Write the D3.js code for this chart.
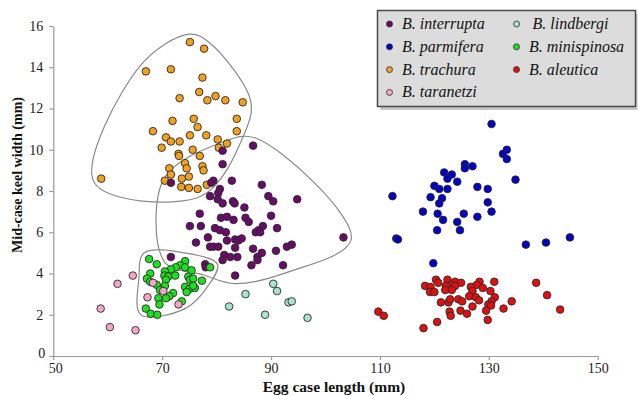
<!DOCTYPE html>
<html><head><meta charset="utf-8">
<script src="https://cdn.jsdelivr.net/npm/d3@7"></script>
<style>
html,body{margin:0;padding:0;background:#fff;}
svg{display:block;font-family:"Liberation Serif","DejaVu Serif",serif;}
</style></head>
<body><svg id="c" width="638" height="396"></svg>
<script>
// ---- data ----
const xTicks = [50, 70, 90, 110, 130, 150];
const yTicks = [0, 2, 4, 6, 8, 10, 12, 14, 16];
const xLabel = "Egg case length (mm)";
const yLabel = "Mid-case keel width (mm)";

const trachura = [[75.1,15.22],[77.7,14.9],[67.0,13.8],[71.6,13.9],[77.4,13.5],[76.8,12.8],[73.2,12.5],[78.3,12.4],[79.8,12.6],[81.6,12.4],[84.8,12.3],[71.9,11.4],[75.8,11.5],[83.7,11.5],[76.5,11.1],[68.3,10.9],[83.7,10.9],[70.7,10.6],[71.6,10.4],[73.2,10.4],[75.1,10.7],[78.1,10.7],[80.2,10.5],[81.9,10.3],[69.9,10.1],[75.6,10.0],[80.4,10.1],[73.0,9.8],[73.1,9.7],[76.9,9.7],[74.2,9.35],[77.4,9.2],[71.3,9.1],[74.5,9.1],[77.6,9.0],[71.6,8.8],[74.9,8.7],[73.6,8.6],[58.8,8.6],[70.5,8.5],[73.5,8.2],[74.9,8.15],[76.5,8.1],[78.2,8.3]];
const interrupta = [[86.7,10.2],[81.1,9.95],[81.1,9.3],[79.4,8.5],[79.0,8.4],[82.8,8.5],[88.3,8.3],[71.6,8.4],[80.6,8.1],[80.3,7.9],[78.8,7.75],[80.2,7.6],[81.1,7.4],[83.0,7.5],[83.3,7.4],[89.5,7.75],[90.4,7.5],[94.8,7.6],[85.1,7.2],[76.9,6.9],[80.8,6.7],[81.9,6.75],[83.1,6.6],[85.3,6.7],[85.9,6.5],[90.0,6.8],[75.1,6.3],[77.1,6.3],[79.7,6.2],[80.6,6.1],[81.7,6.0],[88.5,6.3],[87.7,6.1],[87.2,6.0],[88.0,6.0],[91.1,6.2],[78.4,5.75],[76.2,5.5],[81.9,5.6],[83.4,5.65],[84.0,5.6],[84.6,5.7],[78.8,5.3],[79.4,5.3],[80.3,5.3],[83.4,5.25],[86.7,5.2],[92.9,5.3],[93.8,5.4],[90.9,5.1],[103.3,5.75],[81.4,4.9],[82.5,4.8],[83.8,4.8],[81.1,4.65],[88.3,5.0],[87.5,4.8],[87.5,4.65],[86.4,4.4],[92.2,4.4],[83.4,3.9],[71.6,4.8],[77.9,4.45],[78.0,4.3]];
const minispinosa = [[67.6,4.7],[69.0,4.45],[74.2,4.6],[73.3,4.4],[72.5,4.3],[74.2,4.3],[71.6,4.2],[70.5,4.1],[75.4,4.15],[67.8,4.0],[70.4,3.9],[71.1,3.85],[72.4,3.9],[74.8,3.85],[67.2,3.75],[70.7,3.7],[77.3,3.65],[67.8,3.6],[75.1,3.7],[75.7,3.75],[69.0,3.45],[70.5,3.4],[69.6,3.2],[74.2,3.35],[75.0,3.25],[76.0,3.3],[75.7,3.4],[74.5,3.1],[72.0,3.05],[71.3,2.9],[70.7,2.8],[69.3,2.8],[73.6,2.65],[69.5,2.5],[67.0,2.3],[67.9,2.05],[69.1,2.0],[78.8,4.3]];
const taranetzi = [[64.6,3.9],[61.8,3.5],[68.3,3.55],[70.2,3.15],[67.3,2.85],[73.0,2.5],[58.7,2.3],[60.4,1.4],[65.1,1.25]];
const lindbergi = [[90.4,3.5],[91.1,3.15],[85.3,3.0],[82.3,2.4],[93.2,2.6],[93.8,2.65],[88.9,2.0],[96.7,1.85]];
const parmifera = [[130.5,11.25],[133.3,10.0],[132.6,9.8],[133.3,9.55],[125.6,9.3],[127.0,9.2],[125.6,9.1],[121.8,8.9],[123.2,8.8],[122.4,8.6],[124.2,8.45],[134.9,8.55],[120.0,8.25],[120.9,8.1],[122.4,8.1],[127.9,8.2],[129.8,8.1],[112.3,7.75],[119.3,7.7],[121.4,7.65],[120.9,7.4],[129.8,7.45],[117.9,7.0],[120.6,6.9],[125.4,6.9],[130.5,7.0],[127.9,6.75],[121.6,6.6],[124.2,6.5],[120.5,6.1],[124.7,6.1],[113.0,5.7],[113.3,5.65],[136.8,5.4],[140.5,5.5],[144.9,5.75],[119.8,4.5]];
const aleutica = [[120.3,3.7],[120.7,3.55],[122.4,3.7],[123.8,3.6],[124.9,3.55],[123.0,3.45],[118.3,3.4],[119.3,3.35],[122.1,3.4],[123.8,3.4],[122.0,3.2],[123.2,3.2],[119.2,3.1],[120.0,3.1],[128.3,3.6],[127.8,3.45],[126.7,3.35],[128.9,3.3],[131.0,3.6],[127.0,3.15],[130.3,3.15],[126.4,2.9],[127.6,2.85],[128.2,2.7],[124.4,2.75],[125.1,2.65],[131.1,2.85],[130.5,2.65],[129.9,2.5],[130.4,2.45],[121.2,2.6],[122.6,2.6],[122.9,2.75],[127.0,2.4],[134.2,2.65],[132.7,2.3],[122.8,2.15],[123.0,1.95],[124.8,2.2],[126.0,2.05],[129.5,2.2],[129.8,1.75],[120.5,1.65],[118.0,1.35],[109.7,2.15],[110.7,1.95],[138.7,3.55],[140.7,2.95],[143.1,2.25]];

const speciesNames = ["B. interrupta","B. parmifera","B. trachura","B. taranetzi","B. lindbergi","B. minispinosa","B. aleutica"];
const speciesColors = ["#6a0a6a","#0000c8","#f2a01e","#f4a6c8","#a6e4cc","#1ee01e","#e01010"];
const drawOrder = ["B. trachura","B. interrupta","B. minispinosa","B. taranetzi","B. lindbergi","B. parmifera","B. aleutica"];
const hullSpecies = ["B. trachura","B. interrupta","B. minispinosa"];

const dataBy = {
  "B. interrupta": interrupta, "B. parmifera": parmifera, "B. trachura": trachura,
  "B. taranetzi": taranetzi, "B. lindbergi": lindbergi, "B. minispinosa": minispinosa,
  "B. aleutica": aleutica
};
const colorScale = d3.scaleOrdinal(speciesNames, speciesColors);

// ---- layout ----
const svg = d3.select("#c");
const x = d3.scaleLinear([50,150],[53.3,597.7]);
const y = d3.scaleLinear([0,16],[356,26]);

// axes
const gx = svg.append("g").attr("transform","translate(0,356)")
  .call(d3.axisBottom(x).tickValues(xTicks).tickSize(4).tickSizeOuter(0).tickPadding(3));
const gy = svg.append("g").attr("transform","translate(53.3,0)")
  .call(d3.axisLeft(y).tickValues(yTicks).tickSize(4).tickSizeOuter(0).tickPadding(6));
[gx,gy].forEach(g=>{
  g.selectAll("path,line").attr("stroke","#9a9a9a").attr("stroke-width",1.2);
  g.selectAll("text").attr("fill","#222").style("font-size","14px").style("font-family","Liberation Serif, serif");
});
gy.selectAll(".tick").filter(d=>d===0).select("text").attr("dy","0.1em").attr("x",-8);
gx.selectAll(".tick").filter(d=>d===50).select("text").attr("dx","2");

svg.append("text").attr("x",334).attr("y",392).attr("text-anchor","middle")
  .style("font-weight","bold").style("font-size","15.5px").attr("fill","#111").text(xLabel);
svg.append("text").attr("transform","translate(22,175) rotate(-90)").attr("text-anchor","middle")
  .style("font-weight","bold").style("font-size","14px").attr("fill","#111").text(yLabel);

// hulls: convex hull, offset outward, then smoothed closed spline
const hullLine = d3.line().curve(d3.curveCatmullRomClosed.alpha(0.5));
function smoothHull(pix, pad, minGap){
  let h = d3.polygonHull(pix);
  const kept = [];
  h.forEach(p=>{ if(!kept.length || Math.hypot(p[0]-kept[kept.length-1][0],p[1]-kept[kept.length-1][1])>minGap) kept.push(p); });
  if(kept.length>2 && Math.hypot(kept[0][0]-kept[kept.length-1][0],kept[0][1]-kept[kept.length-1][1])<minGap) kept.pop();
  h = kept;
  const c = d3.polygonCentroid(h);
  const n = h.length;
  return h.map((p,i)=>{
    const a = h[(i-1+n)%n], b = h[(i+1)%n];
    const e1 = [p[0]-a[0], p[1]-a[1]], e2 = [b[0]-p[0], b[1]-p[1]];
    const l1 = Math.hypot(...e1)||1, l2 = Math.hypot(...e2)||1;
    let n1 = [e1[1]/l1, -e1[0]/l1], n2 = [e2[1]/l2, -e2[0]/l2];
    let nx = n1[0]+n2[0], ny = n1[1]+n2[1];
    const ln = Math.hypot(nx,ny)||1; nx/=ln; ny/=ln;
    if((p[0]-c[0])*nx + (p[1]-c[1])*ny < 0){ nx=-nx; ny=-ny; }
    return [p[0]+nx*pad, p[1]+ny*pad];
  });
}
hullSpecies.forEach(sp=>{
  const pix = dataBy[sp].map(d=>[x(d[0]), y(d[1])]);
  const h = smoothHull(pix, 8, 14);
  svg.append("path").attr("d",hullLine(h)).attr("fill","none").attr("stroke","#8a8a8a").attr("stroke-width",1.2);
});

// points
drawOrder.forEach(sp=>{
  svg.append("g").selectAll("circle").data(dataBy[sp]).join("circle")
    .attr("cx",d=>x(d[0])).attr("cy",d=>y(d[1])).attr("r",3.8)
    .attr("fill",colorScale(sp)).attr("stroke","#2a2a2a").attr("stroke-width",0.9);
});

// legend
const lg = svg.append("g");
lg.append("rect").attr("x",380.5).attr("y",14).attr("width",257).attr("height",96).attr("fill","#a0a0a0").attr("opacity",0.6);
lg.append("rect").attr("x",377.5).attr("y",10.5).attr("width",258).attr("height",96)
  .attr("fill","#dcdcdc").attr("stroke","#4a4a4a").attr("stroke-width",1.5);
const legendPos = [[0,0],[0,1],[0,2],[0,3],[1,0],[1,1],[1,2]];
speciesNames.forEach((sp,i)=>{
  const [c,r] = legendPos[i];
  const mx = c===0 ? 389.5 : 516.5;
  const my = 24 + r*22.8;
  lg.append("circle").attr("cx",mx).attr("cy",my).attr("r",3).attr("fill",colorScale(sp)).attr("stroke","#2a2a2a").attr("stroke-width",0.8);
  lg.append("text").attr("x",mx+(sp==="B. lindbergi"?16:12.5)).attr("y",my+5).style("font-style","italic").style("font-size","16px").attr("fill","#111").text(sp);
});
</script></body></html>
